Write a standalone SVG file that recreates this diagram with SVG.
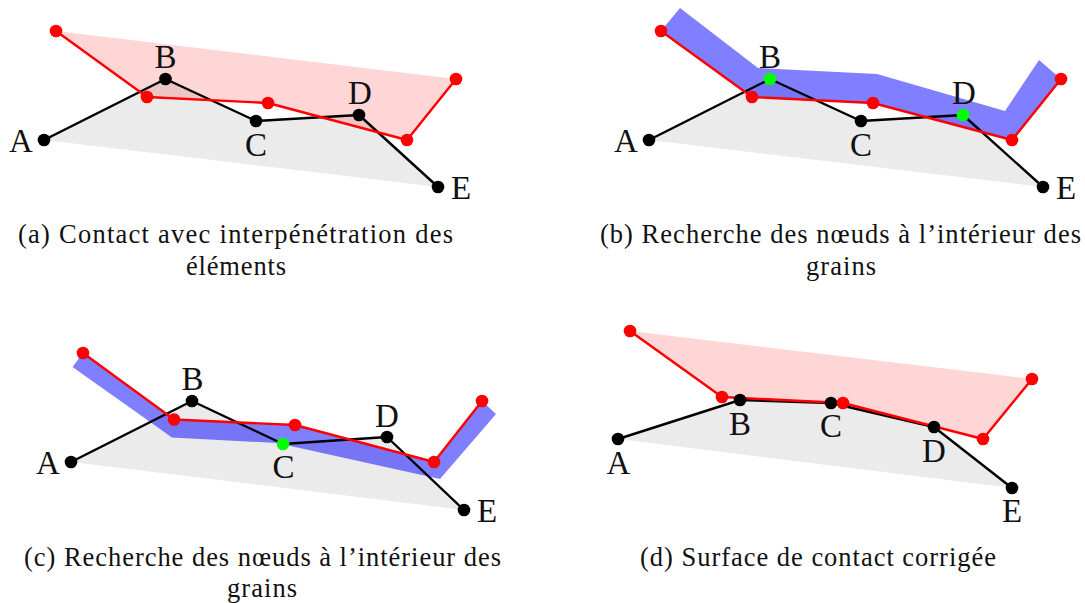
<svg xmlns="http://www.w3.org/2000/svg" width="1085" height="603" viewBox="0 0 1085 603">
<style>
text{font-family:"Liberation Serif","Times New Roman",serif;fill:#111}
.l{font-size:33px;text-anchor:middle}
.c{font-size:26.5px}
.g{fill:#000;fill-opacity:.08;stroke:none}
.p{fill:#f00;fill-opacity:.16;stroke:none}
.v{fill:#00f;fill-opacity:.5;stroke:none}
.k{fill:none;stroke:#000;stroke-width:2.4;stroke-linejoin:round}
.r{fill:none;stroke:#f00;stroke-width:2.4;stroke-linejoin:round}
.nk{fill:#000}.nr{fill:#f00}.ng{fill:#0f0}
</style>
<g id="surfaces">
<polygon class="g" points="44,140 165.5,79 256,121 359,115 438,187"/>
<polygon class="p" points="56,31 147,97 268,103 407,140 456,79"/>
<polygon class="g" points="649,140 770,79 861,121 963,115 1043,187"/>
<polygon class="v" points="661,31 680,8 758,68 877,74 1005,111 1039,60 1061,79 1012,140 873,103 752,97"/>
<polygon class="g" points="71,462 192,401 283,444 387,437 464,510"/>
<polygon class="v" points="83,353 72.5,367 172,437.5 277,443 440,479 496,414 482,401 434,462 295,425 174,419.5"/>
<polygon class="g" points="618,439 740,400 831,403 934,427 1012,488"/>
<polygon class="p" points="630,331 722,397 843,403 983,439 1032,379"/>
</g>
<g id="connectors">
<polyline class="k" points="44,140 165.5,79 256,121 359,115 438,187"/>
<polyline class="r" points="56,31 147,97 268,103 407,140 456,79"/>
<polyline class="k" points="649,140 770,79 861,121 963,115 1043,187"/>
<polyline class="r" points="661,31 752,97 873,103 1012,140 1061,79"/>
<polyline class="k" points="71,462 192,401 283,444 387,437 464,510"/>
<polyline class="r" points="83,353 174,419.5 295,425 434,462 482,401"/>
<polyline class="k" points="618,439 740,400 831,403 934,427 1012,488"/>
<polyline class="r" points="630,331 722,397 843,403 983,439 1032,379"/>
</g>
<g id="panel-a">
<g id="a-A"><circle class="nk" cx="44" cy="140" r="6.3"/><text class="l" x="21" y="152">A</text></g>
<g id="a-B"><circle class="nk" cx="165.5" cy="79" r="6.3"/><text class="l" x="165.5" y="68">B</text></g>
<g id="a-C"><circle class="nk" cx="256" cy="121" r="6.3"/><text class="l" x="256" y="156">C</text></g>
<g id="a-D"><circle class="nk" cx="359" cy="115" r="6.3"/><text class="l" x="360" y="104">D</text></g>
<g id="a-E"><circle class="nk" cx="438" cy="187" r="6.3"/><text class="l" x="461" y="199">E</text></g>
<g id="a-r1"><circle class="nr" cx="56" cy="31" r="6.3"/></g>
<g id="a-r2"><circle class="nr" cx="147" cy="97" r="6.3"/></g>
<g id="a-r3"><circle class="nr" cx="268" cy="103" r="6.3"/></g>
<g id="a-r4"><circle class="nr" cx="407" cy="140" r="6.3"/></g>
<g id="a-r5"><circle class="nr" cx="456" cy="79" r="6.3"/></g>
<text class="c" x="18" y="243" textLength="435">(a) Contact avec interpénétration des</text>
<text class="c" x="186" y="275" textLength="100">éléments</text>
</g>
<g id="panel-b">
<g id="b-A"><circle class="nk" cx="649" cy="140" r="6.3"/><text class="l" x="626" y="152">A</text></g>
<g id="b-B"><circle class="ng" cx="770" cy="79" r="6.3"/><text class="l" x="770" y="68">B</text></g>
<g id="b-C"><circle class="nk" cx="861" cy="121" r="6.3"/><text class="l" x="861" y="156">C</text></g>
<g id="b-D"><circle class="ng" cx="963" cy="115" r="6.3"/><text class="l" x="964" y="104">D</text></g>
<g id="b-E"><circle class="nk" cx="1043" cy="187" r="6.3"/><text class="l" x="1066" y="199">E</text></g>
<g id="b-r1"><circle class="nr" cx="661" cy="31" r="6.3"/></g>
<g id="b-r2"><circle class="nr" cx="752" cy="97" r="6.3"/></g>
<g id="b-r3"><circle class="nr" cx="873" cy="103" r="6.3"/></g>
<g id="b-r4"><circle class="nr" cx="1012" cy="140" r="6.3"/></g>
<g id="b-r5"><circle class="nr" cx="1061" cy="79" r="6.3"/></g>
<text class="c" x="600" y="243" textLength="481">(b) Recherche des nœuds à l’intérieur des</text>
<text class="c" x="806" y="275" textLength="70">grains</text>
</g>
<g id="panel-c">
<g id="c-A"><circle class="nk" cx="71" cy="462" r="6.3"/><text class="l" x="48" y="474">A</text></g>
<g id="c-B"><circle class="nk" cx="192" cy="401" r="6.3"/><text class="l" x="192.5" y="390">B</text></g>
<g id="c-C"><circle class="ng" cx="283" cy="444" r="6.3"/><text class="l" x="283.5" y="478">C</text></g>
<g id="c-D"><circle class="nk" cx="387" cy="437" r="6.3"/><text class="l" x="387" y="427">D</text></g>
<g id="c-E"><circle class="nk" cx="464" cy="510" r="6.3"/><text class="l" x="487" y="522">E</text></g>
<g id="c-r1"><circle class="nr" cx="83" cy="353" r="6.3"/></g>
<g id="c-r2"><circle class="nr" cx="174" cy="419.5" r="6.3"/></g>
<g id="c-r3"><circle class="nr" cx="295" cy="425" r="6.3"/></g>
<g id="c-r4"><circle class="nr" cx="434" cy="462" r="6.3"/></g>
<g id="c-r5"><circle class="nr" cx="482" cy="401" r="6.3"/></g>
<text class="c" x="24" y="566" textLength="477">(c) Recherche des nœuds à l’intérieur des</text>
<text class="c" x="227" y="597" textLength="70">grains</text>
</g>
<g id="panel-d">
<g id="d-A"><circle class="nk" cx="618" cy="439" r="6.3"/><text class="l" x="618.5" y="474">A</text></g>
<g id="d-B"><circle class="nk" cx="740" cy="400" r="6.3"/><text class="l" x="740" y="435">B</text></g>
<g id="d-C"><circle class="nk" cx="831" cy="403" r="6.3"/><text class="l" x="831" y="437">C</text></g>
<g id="d-D"><circle class="nk" cx="934" cy="427" r="6.3"/><text class="l" x="934" y="462">D</text></g>
<g id="d-E"><circle class="nk" cx="1012" cy="488" r="6.3"/><text class="l" x="1012" y="522">E</text></g>
<g id="d-r1"><circle class="nr" cx="630" cy="331" r="6.3"/></g>
<g id="d-r2"><circle class="nr" cx="722" cy="397" r="6.3"/></g>
<g id="d-r3"><circle class="nr" cx="843" cy="403" r="6.3"/></g>
<g id="d-r4"><circle class="nr" cx="983" cy="439" r="6.3"/></g>
<g id="d-r5"><circle class="nr" cx="1032" cy="379" r="6.3"/></g>
<text class="c" x="640" y="566" textLength="356">(d) Surface de contact corrigée</text>
</g>
</svg>
